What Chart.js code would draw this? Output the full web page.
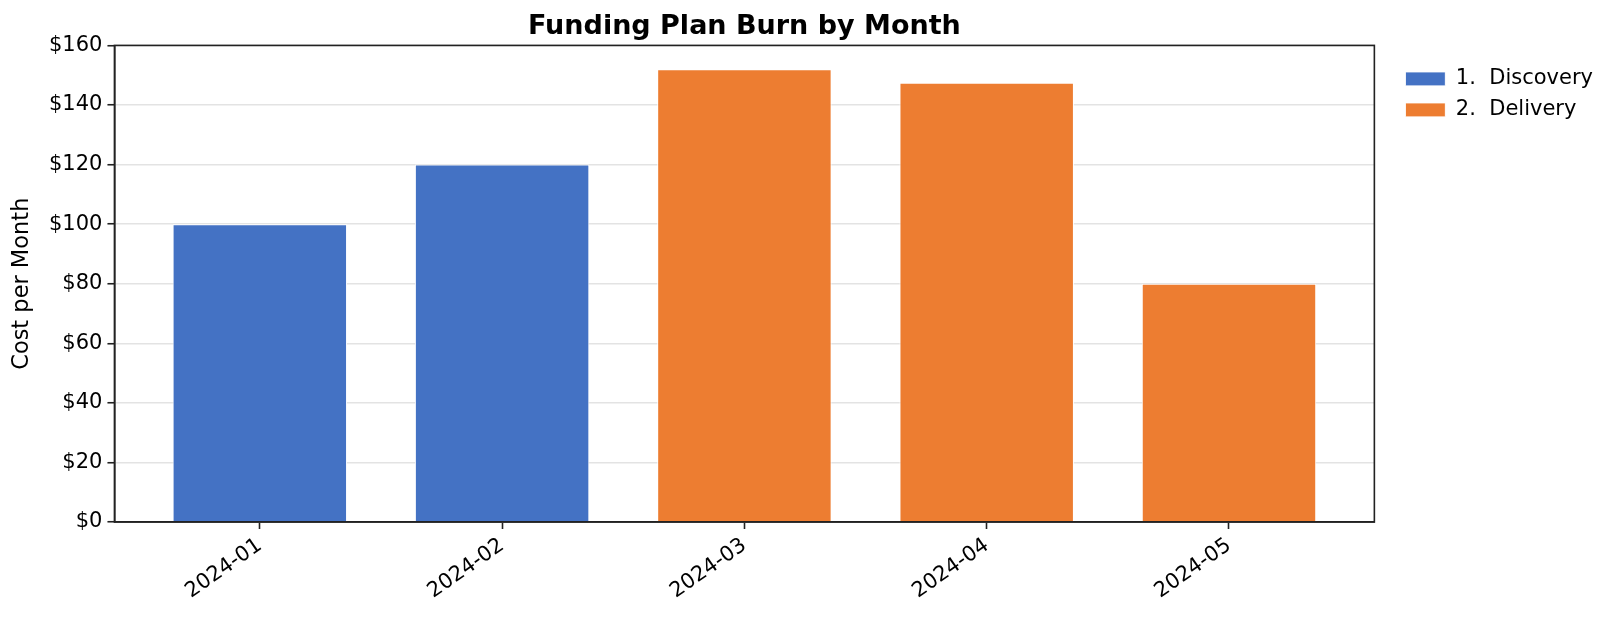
<!DOCTYPE html>
<html>
<head>
<meta charset="utf-8">
<script src="https://cdn.jsdelivr.net/npm/chart.js@4.4.1/dist/chart.umd.min.js"></script>
<style>
  html, body { margin: 0; padding: 0; background: #fff; }
</style>
</head>
<body>
<canvas id="burn-chart" width="1623" height="618"></canvas>
<script>
// months on the x axis, one bar each
const months = ['2024-01', '2024-02', '2024-03', '2024-04', '2024-05'];
const monthlyCost = [100, 120, 152, 147.5, 80];
// phase index per month: 0 = Discovery, 1 = Delivery
const monthPhase = [0, 0, 1, 1, 1];
const phaseNames = ['1.  Discovery', '2.  Delivery'];
const phaseColors = ['#4472C4', '#ED7D31'];
const costTicks = [0, 20, 40, 60, 80, 100, 120, 140, 160];

const FONT = 'DejaVu Sans';

const datasets = phaseNames.map((name, p) => ({
  label: name,
  data: months
    .map((m, i) => ({ x: i, y: monthlyCost[i], phase: monthPhase[i] }))
    .filter(d => d.phase === p),
  backgroundColor: phaseColors[p],
  borderColor: '#ffffff',
  borderWidth: 1,
  barPercentage: 0.72,
  categoryPercentage: 1.0,
}));

// draws the top and right spines so the plot is boxed like the source
const frame = {
  id: 'frame',
  afterDatasetsDraw(chart) {
    const { ctx, chartArea: a } = chart;
    ctx.save();
    ctx.strokeStyle = '#222';
    ctx.lineWidth = 1.6;
    ctx.strokeRect(a.left, a.top, a.right - a.left, a.bottom - a.top);
    ctx.restore();
  },
};

// matplotlib puts the legend a bit away from the axes; nudge it over
const legendNudge = {
  id: 'legendNudge',
  afterLayout(chart) {
    const lg = chart.legend;
    lg.left += 21; lg.right += 21;
    lg.top += 13; lg.bottom += 13;
  },
};

const config = {
  type: 'bar',
  data: { datasets: datasets },
  options: {
    responsive: false,
    animation: false,
    devicePixelRatio: 1,
    layout: {
      padding: { top: 5, left: 9, right: 41, bottom: 10 },
    },
    plugins: {
      title: {
        display: true,
        fullSize: false,
        text: 'Funding Plan Burn by Month',
        color: '#000',
        font: { family: FONT, size: 27, weight: 'bold' },
        padding: { top: 6, bottom: 2 },
      },
      legend: {
        position: 'right',
        align: 'start',
        fullSize: false,
        labels: {
          boxWidth: 40,
          boxHeight: 14,
          padding: 10,
          color: '#000',
          font: { family: FONT, size: 21 },
        },
      },
      tooltip: { enabled: false },
    },
    scales: {
      x: {
        type: 'linear',
        stacked: true,
        offset: false,
        min: -0.6,
        max: 4.6,
        afterBuildTicks: axis => {
          axis.ticks = months.map((m, i) => ({ value: i }));
        },
        ticks: {
          autoSkip: false,
          minRotation: 35,
          maxRotation: 35,
          color: '#000',
          padding: 4,
          font: { family: FONT, size: 21 },
          callback: v => months[v],
        },
        grid: {
          offset: false,
          drawOnChartArea: false,
          drawTicks: true,
          tickLength: 7,
          tickColor: '#222',
          tickWidth: 1.6,
        },
        border: { display: true, color: '#222', width: 1.6 },
      },
      y: {
        stacked: true,
        min: 0,
        max: 160,
        afterBuildTicks: axis => {
          axis.ticks = costTicks.map(v => ({ value: v }));
        },
        ticks: {
          color: '#000',
          padding: 5,
          font: { family: FONT, size: 21 },
          callback: v => '$' + v,
        },
        grid: {
          color: '#e3e3e3',
          lineWidth: 1.5,
          tickLength: 7,
          tickColor: '#222',
          tickWidth: 1.6,
        },
        border: { display: true, color: '#222', width: 1.6 },
        title: {
          display: true,
          text: 'Cost per Month',
          color: '#000',
          font: { family: FONT, size: 22.5 },
          padding: { top: 0, bottom: 8 },
        },
      },
    },
  },
  plugins: [frame, legendNudge],
};

const burnChart = new Chart(document.getElementById('burn-chart'), config);
</script>
</body>
</html>
